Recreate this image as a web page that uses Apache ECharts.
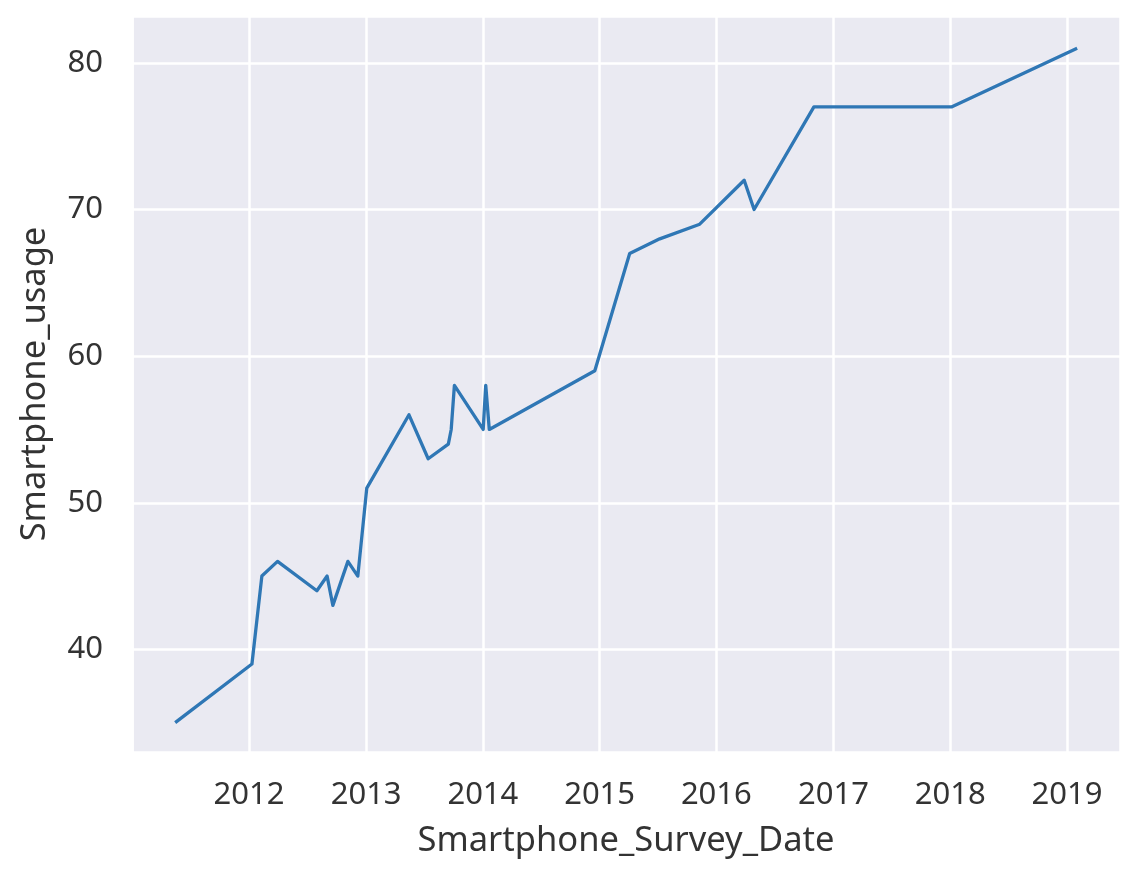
<!DOCTYPE html>
<html>
<head>
<meta charset="utf-8">
<script src="https://cdn.jsdelivr.net/npm/echarts@6/dist/echarts.min.js"></script>
<style>
html,body{margin:0;padding:0;background:#fff;}
#chart{width:1142px;height:876px;}
</style>
</head>
<body>
<div id="chart"></div>
<script>
const surveyDates = [
  '2011-05-15','2012-01-10','2012-02-10','2012-03-30','2012-07-31','2012-09-01',
  '2012-09-19','2012-11-05','2012-12-06','2013-01-03','2013-05-15','2013-07-14',
  '2013-09-15','2013-09-24','2013-10-04','2014-01-02','2014-01-10','2014-01-21',
  '2014-12-17','2015-04-05','2015-07-08','2015-11-10','2016-03-28','2016-04-28',
  '2016-11-01','2018-01-05','2019-02-02'
];
const smartphoneUsage = [
  35,39,45,46,44,45,
  43,46,45,51,56,53,
  54,55,58,55,58,55,
  59,67,68,69,72,70,
  77,77,81
];
const xTickYears = [2012,2013,2014,2015,2016,2017,2018,2019];
const xMinDate = '2010-12-31';
const xMaxDate = '2019-06-16';
const yMin = 33.0, yMax = 83.2;

const seriesData = surveyDates.map((d, i) => [d, smartphoneUsage[i]]);
const chart = echarts.init(document.getElementById('chart'));
const font = 'Noto Sans';
chart.setOption({
  animation: false,
  backgroundColor: '#ffffff',
  grid: {left: 132, right: 22, top: 16, bottom: 124, backgroundColor: '#eaeaf2', show: true, borderWidth: 0,
         outerBoundsMode: 'none', containLabel: false},
  xAxis: {
    type: 'time',
    min: xMinDate,
    max: xMaxDate,
    splitNumber: 8,
    minInterval: 365 * 24 * 3600 * 1000,
    name: 'Smartphone_Survey_Date',
    nameLocation: 'middle',
    nameGap: 72,
    nameTextStyle: {fontFamily: font, fontSize: 34.5, color: '#333333'},
    axisLine: {show: false},
    axisTick: {show: false},
    axisLabel: {
      formatter: function (v) {
        const d = new Date(v);
        const y = d.getFullYear();
        return (xTickYears.indexOf(y) >= 0 && d.getMonth() === 0 && d.getDate() === 1) ? String(y) : '';
      },
      fontFamily: font, fontSize: 31, color: '#333333', margin: 28,
      fontWeight: 'normal',
      showMinLabel: false, showMaxLabel: false
    },
    splitLine: {show: true, lineStyle: {color: '#ffffff', width: 2.5}}
  },
  yAxis: {
    type: 'value',
    min: yMin,
    max: yMax,
    splitNumber: 5,
    name: 'Smartphone_usage',
    nameLocation: 'middle',
    nameGap: 79,
    nameRotate: 90,
    nameTextStyle: {fontFamily: font, fontSize: 34.5, color: '#333333'},
    axisLine: {show: false},
    axisTick: {show: false},
    axisLabel: {fontFamily: font, fontSize: 31, color: '#333333', margin: 29, showMinLabel: false, showMaxLabel: false},
    splitLine: {show: true, lineStyle: {color: '#ffffff', width: 2.5}}
  },
  series: [{
    type: 'line',
    data: seriesData,
    showSymbol: false,
    symbol: 'none',
    lineStyle: {color: '#2f77b5', width: 3.3, join: 'round'}
  }]
});
</script>
</body>
</html>
